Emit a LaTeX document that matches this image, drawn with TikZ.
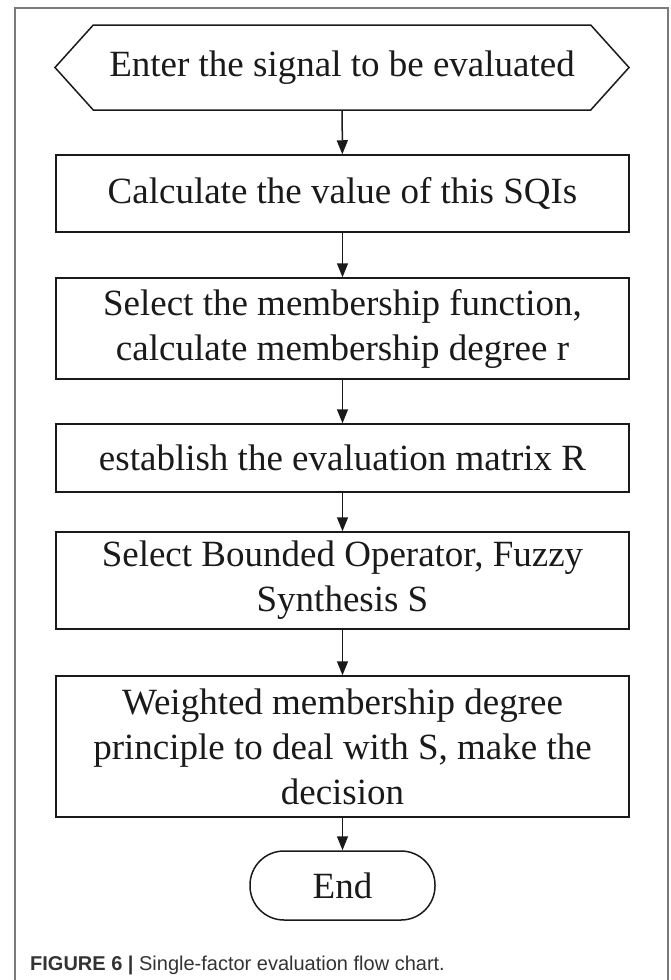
\documentclass[tikz,border=0pt]{standalone}
\usepackage{fontspec}
\setmainfont{Liberation Serif}
\newfontfamily\capfont{Liberation Sans}
\usepackage{tikz}
\usetikzlibrary{arrows.meta,shapes.symbols}
\definecolor{Ink}{HTML}{1A1A1A}
\definecolor{Frame}{HTML}{7A7A7A}
\definecolor{CapText}{HTML}{333333}
\tikzset{
  stepbox/.style={draw=Ink,line width=1.5pt,minimum width=573pt,align=center,inner sep=0pt,text=Ink,font=\fontsize{37}{45}\selectfont},
  inputbox/.style={stepbox,signal,signal to=west and east,signal pointer angle=96,minimum width=574pt,minimum height=85pt},
  endbox/.style={stepbox,rounded corners=34pt,minimum width=185pt,minimum height=69pt},
  arrow/.style={-{Triangle[length=14pt,width=11pt]},line width=1.5pt,draw=Ink}
}

\begin{document}
\begin{tikzpicture}[x=1pt,y=-1pt]
  \useasboundingbox (0,0) rectangle (670,980);
  \draw[Frame,line width=1.3pt] (15,980) -- (15,8) -- (668,8) -- (668,980);
  \node[inputbox] (enter) at (342,67.5) {Enter the signal to be evaluated};
  \node[stepbox,minimum height=77pt] (calc) at (342.5,193.5) {Calculate the value of this SQIs};
  \node[stepbox,minimum height=101pt] (member) at (342.5,328.5) {Select the membership function,\\calculate membership degree r};
  \node[stepbox,minimum height=68pt] (matrix) at (342.5,458) {establish the evaluation matrix R};
  \node[stepbox,minimum height=97pt] (fuzzy) at (342.5,580.5) {Select Bounded Operator, Fuzzy\\Synthesis S};
  \node[stepbox,minimum height=141pt] (decide) at (342.5,746.5) {Weighted membership degree\\principle to deal with S, make the\\decision};
  \node[endbox] (end) at (342.5,885.5) {End};
  \draw[arrow] (enter) -- (calc); \draw[arrow] (calc) -- (member); \draw[arrow] (member) -- (matrix);
  \draw[arrow] (matrix) -- (fuzzy); \draw[arrow] (fuzzy) -- (decide); \draw[arrow] (decide) -- (end);
  \node[anchor=west,inner sep=0pt,text=CapText,font=\capfont\fontsize{20}{24}\selectfont] (caption) at (30,965) {\textbf{FIGURE 6 |} Single-factor evaluation flow chart.};
\end{tikzpicture}
\end{document}
